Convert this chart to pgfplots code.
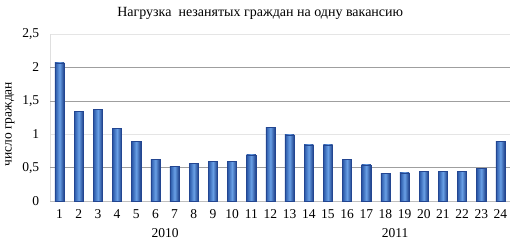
\documentclass[border=0pt]{standalone}
\usepackage{pgfplots}
\pgfplotsset{compat=1.18}
\usepackage{fontspec}
\setmainfont{Liberation Serif}
\definecolor{barL}{RGB}{40,85,165}
\definecolor{barM}{RGB}{105,160,230}
\definecolor{barR}{RGB}{28,62,135}
\definecolor{barE}{RGB}{35,70,145}
\pgfplotsset{cyl/.style={draw=barE, shading=axis, shading angle=90, left color=barL, right color=barR, middle color=barM}}
\begin{document}
\begin{tikzpicture}
\path[use as bounding box] (-50pt,-46pt) rectangle (468pt,201pt);
\begin{axis}[
  at={(0pt,0pt)}, anchor=origin,
  scale only axis,
  width=460pt, height=167pt,
  xmin=0.5, xmax=24.5,
  ymin=0, ymax=2.5,
  ybar, bar width=0.48, bar shift=0pt,
  xtick={1,...,24},
  major x tick style={draw=none},
  extra x ticks={0.5,1.5,...,24.5},
  extra x tick labels={},
  extra x tick style={tick style={draw=gray!60, thin}, tickwidth=4pt, xticklabel=\empty},
  x tick label style={font=\fontsize{13.5}{15}\selectfont, yshift=-1pt},
  ytick={0,0.5,1,1.5,2,2.5},
  yticklabels={0,{0,5},1,{1,5},2,{2,5}},
  y tick label style={font=\fontsize{13.5}{15}\selectfont, xshift=-3pt},
  major y tick style={draw=none},
  /pgf/number format/assume math mode=true,
  ymajorgrids, grid style={gray!20, thin},
  axis line style={draw=gray!50},
  axis x line*=bottom,
  axis y line*=left,
  y axis line style={draw=gray!25},
  tick align=outside,
  ylabel={число граждан},
  ylabel style={font=\fontsize{13.5}{15}\selectfont, at={(axis description cs:-0.087,0.46)}, anchor=center, rotate=0},
  title={Нагрузка\ \ незанятых граждан на одну вакансию},
  title style={font=\fontsize{14}{16}\selectfont, at={(axis description cs:0.457,1)}, anchor=base, yshift=12pt},
  clip=false,
]
\draw[gray!75, thin] (axis cs:0.5,0.5) -- (axis cs:24.5,0.5);
\draw[gray!75, thin] (axis cs:0.5,1.5) -- (axis cs:24.5,1.5);
\draw[gray!75, thin] (axis cs:0.5,2) -- (axis cs:24.5,2);
\addplot[cyl] coordinates {(1,2.07)};
\addplot[cyl] coordinates {(2,1.34)};
\addplot[cyl] coordinates {(3,1.37)};
\addplot[cyl] coordinates {(4,1.09)};
\addplot[cyl] coordinates {(5,0.89)};
\addplot[cyl] coordinates {(6,0.62)};
\addplot[cyl] coordinates {(7,0.52)};
\addplot[cyl] coordinates {(8,0.56)};
\addplot[cyl] coordinates {(9,0.59)};
\addplot[cyl] coordinates {(10,0.59)};
\addplot[cyl] coordinates {(11,0.69)};
\addplot[cyl] coordinates {(12,1.10)};
\addplot[cyl] coordinates {(13,0.99)};
\addplot[cyl] coordinates {(14,0.84)};
\addplot[cyl] coordinates {(15,0.84)};
\addplot[cyl] coordinates {(16,0.62)};
\addplot[cyl] coordinates {(17,0.54)};
\addplot[cyl] coordinates {(18,0.41)};
\addplot[cyl] coordinates {(19,0.42)};
\addplot[cyl] coordinates {(20,0.44)};
\addplot[cyl] coordinates {(21,0.44)};
\addplot[cyl] coordinates {(22,0.44)};
\addplot[cyl] coordinates {(23,0.49)};
\addplot[cyl] coordinates {(24,0.89)};
\node[font=\fontsize{13.5}{15}\selectfont] at (axis cs:6.5,0) [yshift=-32pt] {2010};
\node[font=\fontsize{13.5}{15}\selectfont] at (axis cs:18.5,0) [yshift=-32pt] {2011};
\end{axis}
\end{tikzpicture}
\end{document}
